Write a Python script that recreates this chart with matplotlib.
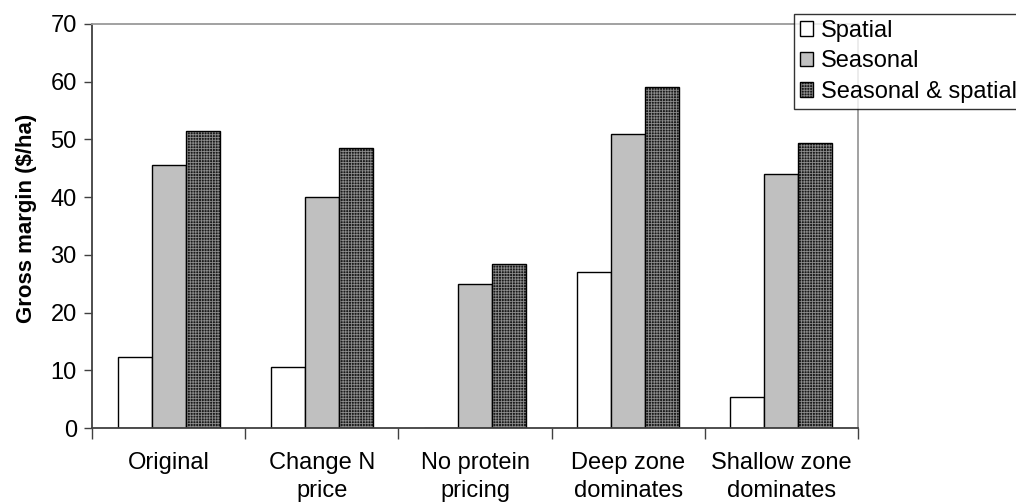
import matplotlib
matplotlib.use("Agg")
import matplotlib.pyplot as plt
from matplotlib.legend_handler import HandlerTuple
import numpy as np

plt.rcParams['font.family'] = ['Liberation Sans', 'DejaVu Sans']
plt.rcParams['hatch.linewidth'] = 0.6

scenarios = ["Original", "Change N\nprice", "No protein\npricing",
             "Deep zone\ndominates", "Shallow zone\ndominates"]
series_names = ["Spatial", "Seasonal", "Seasonal & spatial"]
spatial = [12.3, 10.6, 0.0, 27.0, 5.4]
seasonal = [45.5, 40.1, 25.0, 50.9, 44.0]
seasonal_spatial = [51.5, 48.6, 28.5, 59.0, 49.3]

FS = 17

fig = plt.figure(figsize=(10.16, 5.03), dpi=100)
ax = fig.add_axes([0.0906, 0.1491, 0.7539, 0.8032])

x = np.arange(len(scenarios))
w = 0.222

b1 = ax.bar(x - w, spatial, width=w, facecolor="white",
            edgecolor="black", linewidth=1.0)
b2 = ax.bar(x, seasonal, width=w, facecolor="#c0c0c0",
            edgecolor="black", linewidth=1.0)
# dotted dark fill: light hatch on near-black, then a black outline on top
b3 = ax.bar(x + w, seasonal_spatial, width=w, facecolor="#1a1a1a",
            edgecolor="#8c8c8c", hatch="++++++", linewidth=0)
b3o = ax.bar(x + w, seasonal_spatial, width=w, fill=False,
             edgecolor="black", linewidth=1.0)

ax.set_xlim(-0.5, len(scenarios) - 0.5)
ax.set_ylim(0, 70)
ax.set_yticks(range(0, 71, 10))
ax.tick_params(axis="y", labelsize=FS, length=6, width=1, color="#404040", pad=5)

# labels sit under group centres, tick marks on group boundaries
ax.set_xticks(x)
ax.set_xticklabels(scenarios, fontsize=FS, linespacing=1.4)
ax.tick_params(axis="x", which="major", length=0, pad=17)
ax.set_xticks(np.arange(-0.5, len(scenarios)), minor=True)
ax.tick_params(axis="x", which="minor", length=8, width=1, color="#404040")

for side in ("left", "bottom"):
    ax.spines[side].set_color("#404040")
    ax.spines[side].set_linewidth(1.3)
for side in ("top", "right"):
    ax.spines[side].set_color("#9a9a9a")
    ax.spines[side].set_linewidth(1.3)

ax.set_ylabel("Gross margin ($/ha)", fontsize=16, fontweight="bold")
ax.yaxis.set_label_coords(-0.072, 0.52)

leg = fig.legend([b1, b2, (b3, b3o)], series_names,
                 handler_map={tuple: HandlerTuple(ndivide=1)},
                 loc="upper left", bbox_to_anchor=(794 / 1016, 1 - 14 / 503),
                 fontsize=FS, frameon=True, fancybox=False, shadow=False,
                 handlelength=0.55, handleheight=0.55, handletextpad=0.35,
                 labelspacing=0.36, borderpad=0.25, borderaxespad=0)
leg.get_frame().set_edgecolor("black")
leg.get_frame().set_linewidth(1.0)

fig.savefig("out.png", dpi=100)
